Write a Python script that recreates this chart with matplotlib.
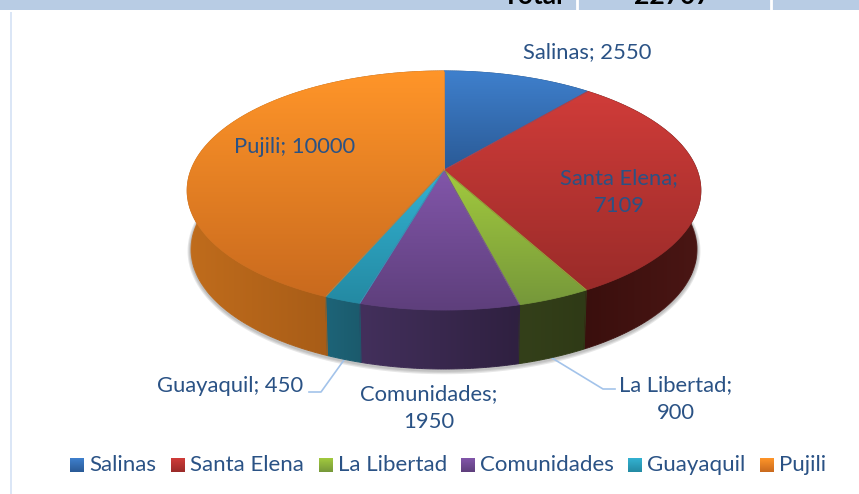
import numpy as np
import matplotlib
matplotlib.use('Agg')
import matplotlib.pyplot as plt
from matplotlib.collections import LineCollection
from matplotlib.colors import to_rgb
from matplotlib.patches import Polygon, Rectangle

plt.rcParams['font.family'] = ['Lato', 'DejaVu Sans']

categories = ['Salinas', 'Santa Elena', 'La Libertad', 'Comunidades', 'Guayaquil', 'Pujili']
values = [2550, 7109, 900, 1950, 450, 10000]
top_colors = [('#3f80cd', '#2a5a96'), ('#d03c39', '#9a2b29'), ('#a2ca3e', '#76983a'),
              ('#8256aa', '#5e3f7c'), ('#33b2d2', '#248aa3'), ('#ff9529', '#c96a1e')]
side_colors = [('#1f4570', '#1f4570'), ('#3a0f0d', '#4a1614'), ('#34401a', '#2f3a16'),
               ('#43305c', '#2f2040'), ('#1d6478', '#1b5a6c'), ('#c06c1c', '#945013')]
header_labels = ['Total', '22707']

text_color = '#2a5285'
leader_color = '#a3c3ea'
label_size = 15.8
legend_size = 16
line_gap = 1.5

# pie geometry in pixels, with a small perspective so the front looks bigger
cx, cy = 444, 170
rx, ry = 253, 116
persp = 0.1715
depth = 59
bottom_scale = 0.985


def rim(a1, a2, scale=1.0, dy=0.0):
    t = np.radians(np.linspace(a1, a2, max(int(abs(a2 - a1)) * 2, 2) + 1))
    u, v = np.sin(t), np.cos(t)
    w = 1 + persp * v
    return np.column_stack([cx + scale * rx * u / w, cy + dy - ry * v / w])


def gradient_fill(ax, pts, cols, vertical=True, z=2, stroke=0.7):
    c1, c2 = np.array(to_rgb(cols[0])), np.array(to_rgb(cols[1]))
    s = np.linspace(0, 1, 128)[:, None]
    img = c1 * (1 - s) + c2 * s
    img = img[:, None, :] if vertical else img[None, :, :]
    x0, y0 = pts.min(axis=0)
    x1, y1 = pts.max(axis=0)
    patch = Polygon(pts, closed=True, facecolor='none', edgecolor='none', zorder=z)
    ax.add_patch(patch)
    im = ax.imshow(img, extent=(x0, x1, y1, y0), aspect='auto', interpolation='bilinear', zorder=z)
    im.set_clip_path(patch)
    if stroke > 0:
        # edge in the colour of the gradient at that spot, it smooths the clip
        closed = np.vstack([pts, pts[:1]])
        segs = np.stack([closed[:-1], closed[1:]], axis=1)
        mids = segs.mean(axis=1)
        f = (mids[:, 1] - y0) / (y1 - y0) if vertical else (mids[:, 0] - x0) / (x1 - x0)
        cols_seg = c1 * (1 - f[:, None]) + c2 * f[:, None]
        ax.add_collection(LineCollection(segs, colors=cols_seg, linewidths=stroke, zorder=z + 0.1))


fig = plt.figure(figsize=(8.59, 4.94), dpi=100)
ax = fig.add_axes([0, 0, 1, 1])

# table remains at the top and the rule on the left
ax.add_patch(Rectangle((0, 0), 859, 10, facecolor='#b8cce4', edgecolor='none', zorder=1))
for x in [577, 771]:
    ax.plot([x, x], [0, 10], color='white', linewidth=2, zorder=1.5)
ax.text(533, 4, header_labels[0], ha='center', va='baseline', fontsize=19, fontweight='bold', color='black', zorder=1.6)
ax.text(672, 4, header_labels[1], ha='center', va='baseline', fontsize=19, fontweight='bold', color='black', zorder=1.6)
ax.add_patch(Rectangle((9.5, 12), 2.5, 482, facecolor='#dbe6f6', edgecolor='none', zorder=1))

# soft shadow under the pie, only a few pixels wide
outline = rim(0, 360, bottom_scale, depth)
for grow in [3.5, 2.5, 1.5]:
    p = outline.copy()
    p[:, 0] = cx + (p[:, 0] - cx) * (1 + grow / rx)
    p[:, 1] = cy + depth + 1 + (p[:, 1] - cy - depth) * (1 + grow / ry)
    ax.add_patch(Polygon(p, closed=True, facecolor='#606060', edgecolor='none', alpha=0.15, zorder=1.8))

angles = np.cumsum([0] + values) / sum(values) * 360

# walls first, the top face covers whatever is hidden
for i in range(len(values)):
    a1, a2 = angles[i], angles[i + 1]
    wall = np.vstack([rim(a1, a2), rim(a1, a2, bottom_scale, depth)[::-1]])
    gradient_fill(ax, wall, side_colors[i], vertical=False, z=2)

for i in range(len(values)):
    a1, a2 = angles[i], angles[i + 1]
    top = np.vstack([[cx, cy], rim(a1, a2)])
    gradient_fill(ax, top, top_colors[i], vertical=True, z=3, stroke=0.6)

# data labels
ax.text(587, 52, f'{categories[0]}; {values[0]}', ha='center', va='center', fontsize=label_size, color=text_color, zorder=5)
ax.text(619, 192, f'{categories[1]};\n{values[1]}', ha='center', va='center', fontsize=label_size, color=text_color, linespacing=line_gap, zorder=5)
ax.text(676, 399, f'{categories[2]};\n{values[2]}', ha='center', va='center', fontsize=label_size, color=text_color, linespacing=line_gap, zorder=5)
ax.text(429, 408, f'{categories[3]};\n{values[3]}', ha='center', va='center', fontsize=label_size, color=text_color, linespacing=line_gap, zorder=5)
ax.text(230, 386, f'{categories[4]}; {values[4]}', ha='center', va='center', fontsize=label_size, color=text_color, zorder=5)
ax.text(295, 147, f'{categories[5]}; {values[5]}', ha='center', va='center', fontsize=label_size, color=text_color, zorder=5)

# leader lines
ax.plot([309, 321, 344], [392, 392, 360], color=leader_color, linewidth=1.2, zorder=1.9)
ax.plot([552, 603, 615], [358, 389, 389], color=leader_color, linewidth=1.2, zorder=1.9)

# legend
swatch_x = [70, 171, 319, 461, 628, 760]
for i, name in enumerate(categories):
    x = swatch_x[i]
    square = np.array([[x, 458], [x + 14, 458], [x + 14, 472], [x, 472]], dtype=float)
    gradient_fill(ax, square, top_colors[i], vertical=True, z=3, stroke=0.0)
    ax.text(x + 19, 465, name, ha='left', va='center', fontsize=legend_size, color=text_color, zorder=5)

ax.set_xlim(0, 859)
ax.set_ylim(494, 0)
ax.axis('off')

fig.savefig('out.png', dpi=100)
